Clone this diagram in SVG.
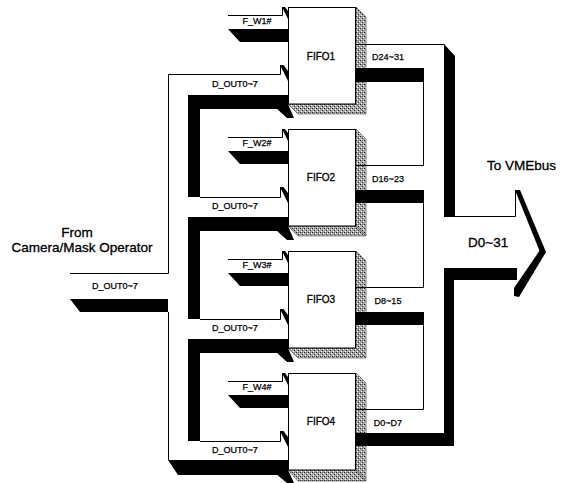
<svg xmlns="http://www.w3.org/2000/svg" width="565" height="483" viewBox="0 0 565 483">
<style>
.ln{fill:none;stroke:#000;stroke-width:1}
.bk{fill:#000;stroke:none}
.box{fill:#fff;stroke:#000;stroke-width:1}
.sh{fill:url(#st);stroke:#444;stroke-width:0.6}
text{font-family:"Liberation Sans",Arial,sans-serif;fill:#000;stroke:#000;stroke-width:0.3}
.s{font-size:9px;text-anchor:middle;stroke-width:0.25}
.f{font-size:10px;text-anchor:middle}
.b{font-size:13.5px}
</style>
<defs>
<pattern id="st" width="4" height="4" patternUnits="userSpaceOnUse">
<rect width="4" height="4" fill="#aaa"/>
<rect x="0" y="0" width="1" height="1" fill="#222"/>
<rect x="2" y="2" width="1" height="1" fill="#222"/>
<rect x="1" y="3" width="1" height="1" fill="#fff"/>
<rect x="3" y="1" width="1" height="1" fill="#fff"/>
<rect x="2" y="0" width="1" height="1" fill="#666"/>
</pattern>
</defs>
<rect width="565" height="483" fill="#fff"/>

<g id="shadows">
<polygon class="sh" points="356,7 366,17 366,114 356,104"/>
<polygon class="sh" points="288,104 356,104 366,114 298,114"/>
<polygon class="sh" points="356,129 366,139 366,236 356,226"/>
<polygon class="sh" points="288,226 356,226 366,236 298,236"/>
<polygon class="sh" points="356,251 366,261 366,358 356,348"/>
<polygon class="sh" points="288,348 356,348 366,358 298,358"/>
<polygon class="sh" points="356,373 366,383 366,481 356,470"/>
<polygon class="sh" points="288,470 356,470 366,481 298,481"/>
</g>

<g id="connectors">
<!-- left input bus -->
<path class="ln" d="M70,273.5 H168.5 V74.5 H280.5 V65"/>
<path class="ln" d="M168.5,312 V460"/>
<path class="ln" d="M200,197.5 H280.5 V187"/>
<path class="ln" d="M200,319.5 H280.5 V309"/>
<path class="ln" d="M200,441.5 H280.5 V431"/>
<polygon class="bk" points="70,299 168,299 168,312 80,312"/>
<polygon class="bk" points="188,95 288,95 288,109 200,109 200,197 188,197"/>
<polygon class="bk" points="188,217 288,217 288,231 200,231 200,319 188,319"/>
<polygon class="bk" points="188,339 288,339 288,353 200,353 200,441 188,441"/>
<polygon class="bk" points="168,460 288,460 288,475 178,475"/>
<polygon class="bk" points="280,65 283.5,65 288,71 288,81"/>
<polygon class="bk" points="280,187 283.5,187 288,193 288,203"/>
<polygon class="bk" points="280,309 283.5,309 288,315 288,325"/>
<polygon class="bk" points="280,431 283.5,431 288,437 288,447"/>
<polygon class="bk" points="276,108 288,104 294,118 287,118"/>
<polygon class="bk" points="276,230 288,226 294,240 287,240"/>
<polygon class="bk" points="276,352 288,348 294,362 287,362"/>
<polygon class="bk" points="276,474 288,470 294,483 287,483"/>
<!-- write enable arrows -->
<path class="ln" d="M228,15.5 H282.5 V7"/>
<path class="ln" d="M228,137.5 H282.5 V129"/>
<path class="ln" d="M228,259.5 H282.5 V251"/>
<path class="ln" d="M228,381.5 H282.5 V373"/>
<polygon class="bk" points="228,29 288,29 288,42 240,42"/>
<polygon class="bk" points="228,151 288,151 288,164 240,164"/>
<polygon class="bk" points="228,273 288,273 288,286 240,286"/>
<polygon class="bk" points="228,395 288,395 288,408 240,408"/>
<polygon class="bk" points="282,7 285,7 288,11 288,19"/>
<polygon class="bk" points="282,129 285,129 288,133 288,141"/>
<polygon class="bk" points="282,251 285,251 288,255 288,263"/>
<polygon class="bk" points="282,373 285,373 288,377 288,385"/>
<!-- output bus -->
<path class="ln" d="M356,44.5 H444.5"/>
<path class="ln" d="M423.5,82 V165.5 H356"/>
<path class="ln" d="M423.5,203 V287.5 H356"/>
<path class="ln" d="M423.5,325 V409.5 H356"/>
<path class="ln" d="M444,216.5 H515.5 V190"/>
<polygon class="bk" points="356,68 424,68 424,82 356,82"/>
<polygon class="bk" points="356,190 424,190 424,203 356,203"/>
<polygon class="bk" points="356,312 424,312 424,325 356,325"/>
<polygon class="bk" points="444,44 455,56 455,216 444,216"/>
<polygon class="bk" points="444,268 517,268 517,280 454,280 454,446 356,446 356,433 444,433"/>
<polygon class="bk" points="515,190 520,190 546,252 540,252"/>
<polygon class="bk" points="540,250 546,252 519,297 514,296 514,288"/>
<text class="s" x="257" y="24">F_W1#</text>
<text class="s" x="257" y="146">F_W2#</text>
<text class="s" x="257" y="268">F_W3#</text>
<text class="s" x="257" y="390">F_W4#</text>
<text class="s" x="235" y="87">D_OUT0~7</text>
<text class="s" x="235" y="209">D_OUT0~7</text>
<text class="s" x="235" y="331">D_OUT0~7</text>
<text class="s" x="235" y="453">D_OUT0~7</text>
<text class="s" x="115" y="289">D_OUT0~7</text>
<text class="s" x="388" y="60">D24~31</text>
<text class="s" x="388" y="182">D16~23</text>
<text class="s" x="388" y="304">D8~15</text>
<text class="s" x="388" y="426">D0~D7</text>
<text class="b" x="77" y="237" text-anchor="middle">From</text>
<text class="b" x="82" y="252" text-anchor="middle">Camera/Mask Operator</text>
<text class="b" x="487" y="170" font-size="14">To VMEbus</text>
<text class="b" x="468" y="247" font-size="14">D0~31</text>
</g>

<g id="fifo1"><rect class="box" x="288.5" y="7.5" width="67" height="96.5"/><text class="f" x="321" y="60">FIFO1</text></g>
<g id="fifo2"><rect class="box" x="288.5" y="129.5" width="67" height="96.5"/><text class="f" x="321" y="181">FIFO2</text></g>
<g id="fifo3"><rect class="box" x="288.5" y="251.5" width="67" height="96.5"/><text class="f" x="321" y="303">FIFO3</text></g>
<g id="fifo4"><rect class="box" x="288.5" y="373.5" width="67" height="96.5"/><text class="f" x="321" y="425">FIFO4</text></g>
</svg>
